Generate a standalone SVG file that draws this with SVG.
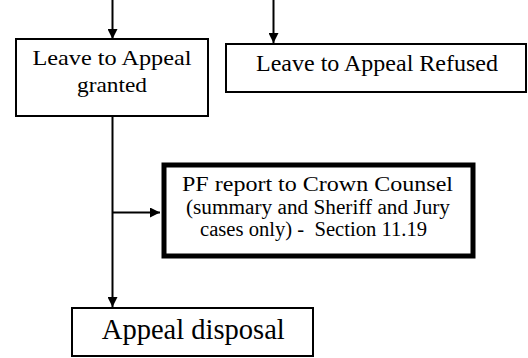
<svg xmlns="http://www.w3.org/2000/svg" width="528" height="358" viewBox="0 0 528 358">
  <defs>
    <marker id="arrow" viewBox="0 0 10 10" refX="10" refY="5" markerWidth="10" markerHeight="10" markerUnits="userSpaceOnUse" orient="auto">
      <path d="M0,0 L10,5 L0,10 z" fill="#000"/>
    </marker>
  </defs>
  <style>
    .box { fill: #fff; stroke: #000; stroke-width: 2; }
    .thick { fill: #fff; stroke: #000; stroke-width: 5; }
    .link { fill: none; stroke: #000; stroke-width: 2; }
    text { font-family: "Liberation Serif", "Times New Roman", serif; fill: #000; text-anchor: middle; white-space: pre; }
  </style>

  <g id="connectors">
    <line class="link" x1="112.5" y1="0" x2="112.5" y2="39" marker-end="url(#arrow)"/>
    <line class="link" x1="273.5" y1="0" x2="273.5" y2="43" marker-end="url(#arrow)"/>
    <line class="link" x1="112.5" y1="116" x2="112.5" y2="307" marker-end="url(#arrow)"/>
    <line class="link" x1="112.5" y1="212.5" x2="160" y2="212.5" marker-end="url(#arrow)"/>
  </g>

  <g id="leave-granted">
    <rect class="box" x="16" y="39" width="192" height="77"/>
    <text x="112" y="65" font-size="21.5" textLength="159" lengthAdjust="spacingAndGlyphs">Leave to Appeal</text>
    <text x="112" y="91.5" font-size="21.5" textLength="70" lengthAdjust="spacingAndGlyphs">granted</text>
  </g>

  <g id="leave-refused">
    <rect class="box" x="226" y="44" width="300" height="48"/>
    <text x="377" y="70.5" font-size="24" textLength="242" lengthAdjust="spacingAndGlyphs">Leave to Appeal Refused</text>
  </g>

  <g id="pf-report">
    <rect class="thick" x="164" y="165" width="309" height="91"/>
    <text x="317.5" y="190.5" font-size="20.5" textLength="271" lengthAdjust="spacingAndGlyphs">PF report to Crown Counsel</text>
    <text x="318" y="213.5" font-size="20" textLength="264" lengthAdjust="spacingAndGlyphs">(summary and Sheriff and Jury</text>
    <text x="313.5" y="236" font-size="20" textLength="227" lengthAdjust="spacingAndGlyphs">cases only) -  Section 11.19</text>
  </g>

  <g id="appeal-disposal">
    <rect class="box" x="72" y="308" width="241" height="48"/>
    <text x="193.3" y="338.5" font-size="28.5" textLength="183" lengthAdjust="spacingAndGlyphs">Appeal disposal</text>
  </g>
</svg>
